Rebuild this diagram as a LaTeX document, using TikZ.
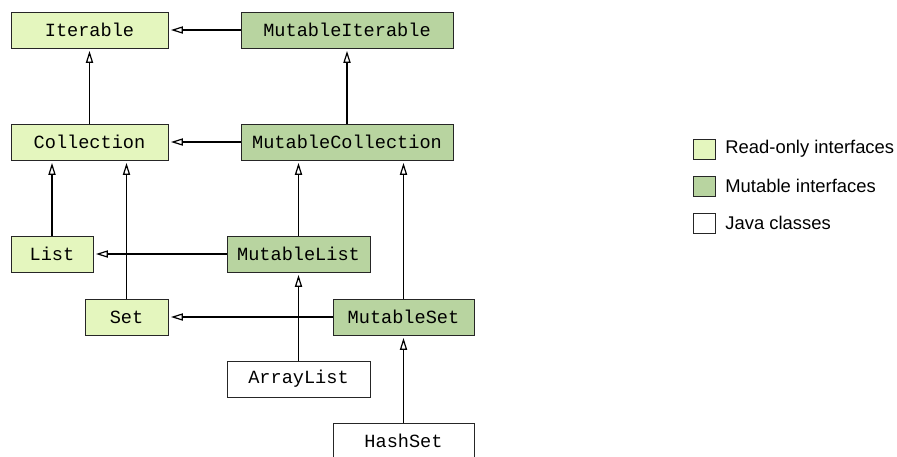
\documentclass[tikz,border=0pt]{standalone}
\usepackage{fontspec}
\setmainfont{Liberation Sans}
\setmonofont{Liberation Mono}
\usetikzlibrary{arrows.meta}
\definecolor{ReadOnly}{HTML}{E4F6BE}
\definecolor{Mutable}{HTML}{B8D4A0}

\begin{document}
\begin{tikzpicture}[x=0.5pt, y=-0.5pt,
        box/.style={draw=black!85, line width=0.5pt, minimum height=18pt, inner sep=0pt,
            font=\ttfamily\fontsize{9.3}{11}\selectfont},
        isa/.style={-{Triangle[open, length=6pt, width=3.6pt]}, line width=0.6pt, shorten >=1.2pt}]
        \useasboundingbox (0,0) rectangle (897,456);
        \foreach \n/\t/\x/\y/\w/\c in {iter/Iterable/89.5/30/78.5/ReadOnly,
                miter/MutableIterable/347/30/106/Mutable,
                coll/Collection/89.5/142/78.5/ReadOnly,
                mcoll/MutableCollection/347/142/106/Mutable,
                list/List/52/254/41/ReadOnly,
                mlist/MutableList/298.5/254/71.5/Mutable,
                set/Set/126.5/317/41.5/ReadOnly,
                mset/MutableSet/403.5/317/70.5/Mutable,
                alist/ArrayList/298.5/379/71.5/white,
                hset/HashSet/403.5/441/70.5/white} {
            \node[box, fill=\c, minimum width=\w pt] (\n) at (\x,\y) {\t};
        }
        \draw[isa] (miter) -- (iter);
        \draw[isa] (coll) -- (iter);
        \draw[isa] (mcoll) -- (miter);
        \draw[isa] (mcoll) -- (coll);
        \draw[isa] (list) -- (list |- coll.south);
        \draw[isa] (set) -- (set |- coll.south);
        \draw[isa] (mlist) -- (list);
        \draw[isa] (mlist) -- (mlist |- mcoll.south);
        \draw[isa] (mset) -- (mset |- mcoll.south);
        \draw[isa] (mset) -- (set);
        \draw[isa] (alist) -- (mlist);
        \draw[isa] (hset) -- (mset);
        \foreach \n/\t/\y/\c in {keyro/Read-only interfaces/149/ReadOnly,
                keymu/Mutable interfaces/186/Mutable,
                keyjv/Java classes/223/white} {
            \node[draw=black!85, line width=0.5pt, fill=\c, minimum width=11pt, minimum height=10pt,
                inner sep=0pt] (\n) at (704,\y) {};
            \node[anchor=west, inner sep=0pt, font=\fontsize{9.2}{11}\selectfont] at (725,\y) {\t};
        }
    \end{tikzpicture}
\end{document}
